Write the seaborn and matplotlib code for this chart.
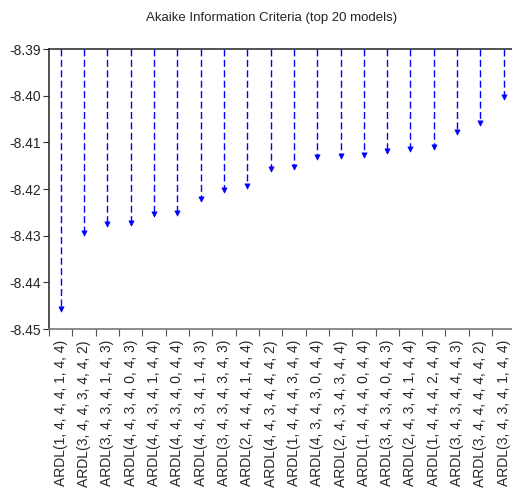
import numpy as np
import pandas as pd
import matplotlib
matplotlib.use("Agg")
import matplotlib.pyplot as plt
from matplotlib.ticker import FixedLocator
import seaborn as sns

# Modelos ARDL e valores do critério de Akaike
modelos = [
    "ARDL(1, 4, 4, 4, 1, 4, 4)", "ARDL(3, 4, 4, 3, 4, 4, 2)",
    "ARDL(3, 4, 3, 4, 1, 4, 3)", "ARDL(4, 4, 3, 4, 0, 4, 3)",
    "ARDL(4, 4, 3, 4, 1, 4, 4)", "ARDL(4, 4, 3, 4, 0, 4, 4)",
    "ARDL(4, 4, 3, 4, 1, 4, 3)", "ARDL(3, 4, 3, 4, 3, 4, 3)",
    "ARDL(2, 4, 4, 4, 1, 4, 4)", "ARDL(4, 4, 3, 4, 4, 4, 2)",
    "ARDL(1, 4, 4, 4, 3, 4, 4)", "ARDL(4, 3, 4, 3, 0, 4, 4)",
    "ARDL(2, 4, 3, 4, 3, 4, 4)", "ARDL(1, 4, 4, 4, 0, 4, 4)",
    "ARDL(3, 4, 3, 4, 0, 4, 3)", "ARDL(2, 4, 3, 4, 1, 4, 4)",
    "ARDL(1, 4, 4, 4, 2, 4, 4)", "ARDL(3, 4, 3, 4, 4, 4, 3)",
    "ARDL(3, 4, 4, 4, 4, 4, 2)", "ARDL(3, 4, 3, 4, 1, 4, 4)",
]
aic = [-8.4458, -8.4295, -8.4274, -8.4273, -8.4253, -8.4251, -8.4221,
       -8.4203, -8.4193, -8.4157, -8.4153, -8.4131, -8.4129, -8.4128,
       -8.4119, -8.4115, -8.4109, -8.4077, -8.4059, -8.4002]
y_ticks = [-8.39, -8.40, -8.41, -8.42, -8.43, -8.44, -8.45]

df = pd.DataFrame({"modelo": modelos, "aic": aic})
df["pos"] = np.arange(len(df))

sns.set_style("white")
plt.rcParams["font.family"] = ["Liberation Sans", "DejaVu Sans"]

fig = plt.figure(figsize=(5.12, 4.92), dpi=100)
ax = fig.add_axes([0.0957, 0.3313, 0.911, 0.5691])

# hastes tracejadas descendo do topo até o valor
ax.vlines(df["pos"], -8.39, df["aic"], colors="#0000ff", linestyles=(0, (5, 2.5)),
          linewidth=1.0, zorder=2)
sns.scatterplot(data=df, x="pos", y="aic", marker="v", s=14, color="#0000ff",
                edgecolor="#0000ff", linewidth=0.5, ax=ax, zorder=3, legend=False)

ax.set_xlim(-0.5, len(df) - 0.5)
ax.set_ylim(-8.45, -8.39)
ax.set_yticks(y_ticks)
ax.set_yticklabels([f"{v:.2f}" for v in y_ticks], fontsize=10)
ax.set_xticks(df["pos"])
ax.set_xticklabels(df["modelo"], rotation=90, fontsize=10)
ax.xaxis.set_minor_locator(FixedLocator(np.arange(-0.5, len(df), 1.0)))
ax.tick_params(axis="x", which="major", length=0, pad=8)
ax.tick_params(axis="x", which="minor", length=5, width=0.8, color="#555555",
               direction="out", bottom=True)
ax.tick_params(axis="y", length=4, width=0.8, direction="out", left=True,
               color="#333333", pad=2)
ax.set_xlabel("")
ax.set_ylabel("")

for s in ["left", "top"]:
    ax.spines[s].set_color("#333333")
    ax.spines[s].set_linewidth(1.2)
ax.spines["bottom"].set_color("#777777")
ax.spines["bottom"].set_linewidth(1.2)
ax.spines["right"].set_visible(False)

fig.suptitle("Akaike Information Criteria (top 20 models)", x=0.53, y=0.975,
             fontsize=9.5)

fig.savefig("out.png", dpi=100)
